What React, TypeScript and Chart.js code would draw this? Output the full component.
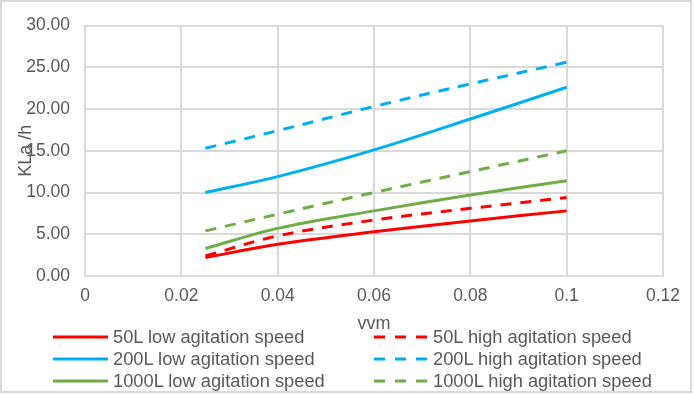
import React, { useEffect, useRef } from "react";
import { Chart, registerables } from "chart.js";

Chart.register(...registerables);

const xValues = [0.025, 0.04, 0.06, 0.08, 0.1];
const l50Low = [2.2, 3.8, 5.3, 6.6, 7.8];
const l50High = [2.4, 4.8, 6.7, 8.1, 9.4];
const l200Low = [10.0, 11.9, 15.1, 18.8, 22.6];
const l200High = [15.3, 17.4, 20.3, 23.0, 25.6];
const l1000Low = [3.3, 5.7, 7.8, 9.7, 11.4];
const l1000High = [5.4, 7.4, 10.0, 12.5, 15.0];

const seriesNames = [
  "50L low agitation speed",
  "50L high agitation speed",
  "200L low agitation speed",
  "200L high agitation speed",
  "1000L low agitation speed",
  "1000L high agitation speed",
];
const seriesValues = [l50Low, l50High, l200Low, l200High, l1000Low, l1000High];
const seriesColors = ["#ff0000", "#ff0000", "#00b0f0", "#00b0f0", "#70ad47", "#70ad47"];
const seriesDashed = [false, true, false, true, false, true];

const xTitle = "vvm";
const yTitle = "KLa /h";

const FONT = "'Liberation Sans', Arial, sans-serif";
const TEXT = "#595959";
const GRID = "#d9d9d9";

export default function App() {
  const ref = useRef<HTMLCanvasElement | null>(null);

  useEffect(() => {
    document.body.style.margin = "0";
    const ctx = ref.current!.getContext("2d")!;
    const chart = new Chart(ctx, {
      type: "line",
      data: {
        datasets: seriesValues.map((vals, i) => ({
          label: seriesNames[i],
          data: vals.map((v, j) => ({ x: xValues[j], y: v })),
          borderColor: seriesColors[i],
          backgroundColor: seriesColors[i],
          borderWidth: 3,
          borderDash: seriesDashed[i] ? [11, 9] : [],
          pointRadius: 0,
          tension: 0.35,
          fill: false,
        })),
      },
      options: {
        animation: false,
        responsive: false,
        maintainAspectRatio: false,
        layout: { padding: { left: 15, top: 16, right: 31, bottom: 59 } },
        plugins: { legend: { display: false }, tooltip: { enabled: false } },
        scales: {
          x: {
            type: "linear",
            min: 0,
            max: 0.12,
            ticks: {
              stepSize: 0.02,
              padding: 10,
              color: TEXT,
              font: { family: FONT, size: 17.5 },
              callback: (v: any) => String(Number(Number(v).toFixed(2))),
            },
            grid: { color: GRID, lineWidth: 2, drawTicks: false },
            border: { color: GRID, width: 2 },
            title: {
              display: true,
              text: xTitle,
              color: TEXT,
              font: { family: FONT, size: 18 },
              padding: 0,
            },
            afterFit: (s: any) => {
              s.height = 59;
            },
          },
          y: {
            min: 0,
            max: 30,
            ticks: {
              stepSize: 5,
              padding: 15,
              color: TEXT,
              font: { family: FONT, size: 17.5 },
              callback: (v: any) => Number(v).toFixed(2),
            },
            grid: { color: GRID, lineWidth: 2, drawTicks: false },
            border: { color: GRID, width: 2 },
            title: {
              display: true,
              text: yTitle,
              color: TEXT,
              font: { family: FONT, size: 18 },
              padding: 0,
            },
            afterFit: (s: any) => {
              s.width = 70;
            },
          },
        },
      },
    });
    return () => chart.destroy();
  }, []);

  const rows = [0, 1, 2];
  const rowY = [337, 359, 381];

  return (
    <div style={{ position: "relative", width: 694, height: 394, background: "#fff", overflow: "hidden" }}>
      <canvas ref={ref} width={694} height={394} style={{ position: "absolute", left: 0, top: 0 }} />
      <div
        style={{
          position: "absolute",
          left: 0,
          top: 0,
          width: 692,
          height: 393,
          boxSizing: "border-box",
          border: "2px solid #d9d9d9",
          pointerEvents: "none",
        }}
      />
      {rows.map((r) =>
        [0, 1].map((c) => {
          const i = r * 2 + c;
          const lineX = c === 0 ? 53 : 374;
          const lineW = c === 0 ? 55 : 53;
          const textX = c === 0 ? 113 : 433;
          return (
            <React.Fragment key={i}>
              <svg
                style={{ position: "absolute", left: lineX, top: rowY[r] - 2 }}
                width={lineW}
                height={4}
              >
                <line
                  x1={0}
                  y1={2}
                  x2={lineW}
                  y2={2}
                  stroke={seriesColors[i]}
                  strokeWidth={3}
                  strokeDasharray={seriesDashed[i] ? "11 10" : undefined}
                />
              </svg>
              <span
                style={{
                  position: "absolute",
                  left: textX,
                  top: rowY[r] - 11,
                  height: 22,
                  lineHeight: "22px",
                  fontFamily: FONT,
                  fontSize: 18.3,
                  color: TEXT,
                  whiteSpace: "nowrap",
                }}
              >
                {seriesNames[i]}
              </span>
            </React.Fragment>
          );
        })
      )}
    </div>
  );
}
